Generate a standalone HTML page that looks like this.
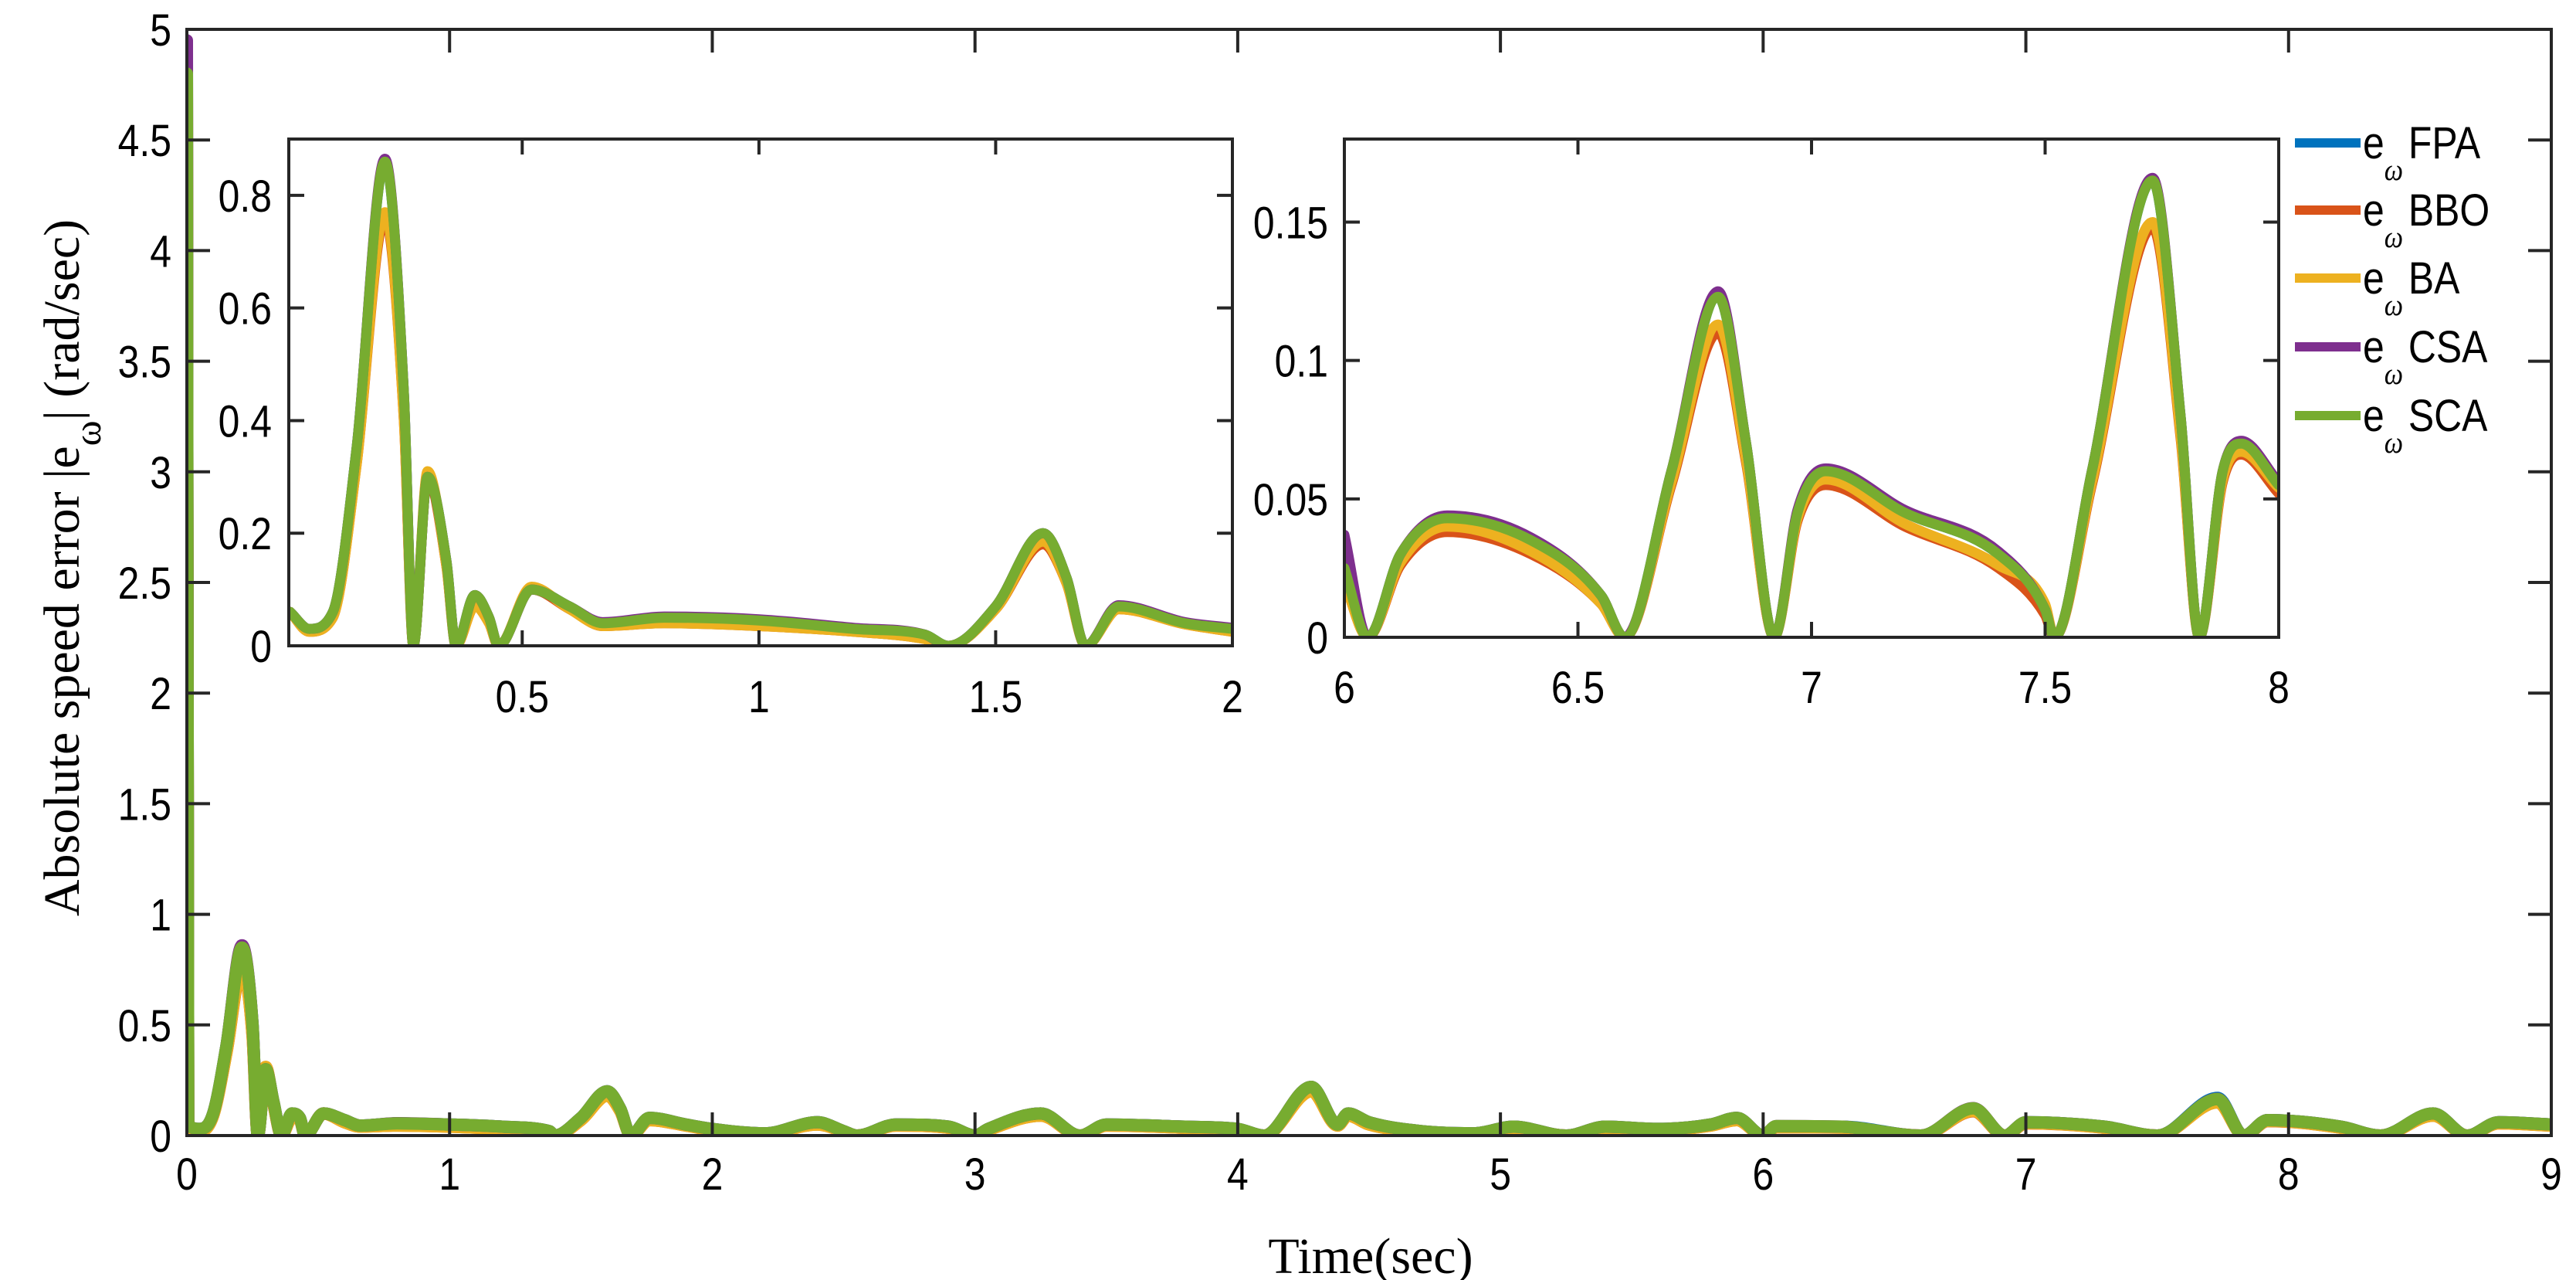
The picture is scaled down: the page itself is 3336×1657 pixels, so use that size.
<!DOCTYPE html>
<html><head><meta charset="utf-8"><style>
html,body{margin:0;padding:0;background:#fff;}
svg{display:block;}
text{font-family:"Liberation Sans",sans-serif;fill:#000;}
</style></head><body>
<svg id="chart" width="3336" height="1657" viewBox="0 0 3336 1657" xmlns="http://www.w3.org/2000/svg">
<rect width="3336" height="1657" fill="#fff"/>
<g id="main"></g>
<g id="inset1"></g>
<g id="inset2"></g>
<g id="legend"></g>
<text x="1775" y="1648" text-anchor="middle" style="font-family:'Liberation Serif',serif;font-size:66px">Time(sec)</text>
<text transform="translate(102,735) rotate(-90)" text-anchor="middle" style="font-family:'Liberation Serif',serif;font-size:66px">Absolute speed error |e<tspan baseline-shift="sub" font-size="50">ω</tspan>| (rad/sec)</text>
</svg>
<script>
const seriesNames=["FPA","BBO","BA","CSA","SCA"];
const seriesColors=["#0072BD","#D95319","#EDB120","#7E2F8E","#77AC30"];

// main panel data
const mainT=[0,0.005,0.05,0.1,0.15,0.21,0.25,0.27,0.3,0.33,0.36,0.4,0.43,0.45,0.52,0.6,0.66,0.8,1.0,1.2,1.38,1.4,1.5,1.6,1.65,1.69,1.76,1.9,2.0,2.2,2.4,2.5,2.55,2.7,2.9,3.0,3.05,3.25,3.4,3.5,3.8,4.0,4.1,4.28,4.38,4.42,4.5,4.7,4.9,5.05,5.25,5.4,5.6,5.8,5.9,6.0,6.05,6.3,6.6,6.8,6.92,7.0,7.3,7.5,7.73,7.83,7.92,8.2,8.35,8.55,8.68,8.8,9.0];
const mainFPA=[4.9,0.05,0.03,0.1,0.4,0.85,0.5,0,0.3,0.15,0,0.1,0.08,0,0.1,0.07,0.045,0.055,0.05,0.04,0.02,0,0.08,0.2,0.12,0,0.08,0.05,0.03,0.01,0.06,0.02,0,0.05,0.04,0,0.03,0.1,0,0.05,0.04,0.03,0,0.22,0.05,0.1,0.06,0.02,0.01,0.04,0,0.04,0.03,0.05,0.08,0,0.04,0.04,0,0.12,0,0.06,0.04,0,0.17,0,0.07,0.04,0,0.1,0,0.06,0.05];
const mainBBO=[4.8,0.04,0.02,0.09,0.37,0.76,0.45,0,0.31,0.14,0,0.08,0.07,0,0.1,0.06,0.04,0.045,0.04,0.03,0.015,0,0.07,0.18,0.11,0,0.07,0.045,0.025,0.008,0.05,0.018,0,0.045,0.035,0,0.025,0.09,0,0.045,0.035,0.025,0,0.2,0.045,0.09,0.05,0.018,0.008,0.035,0,0.035,0.025,0.045,0.07,0,0.037,0.036,0,0.11,0,0.055,0.035,0,0.15,0,0.065,0.035,0,0.09,0,0.055,0.045];
const mainBA=[4.8,0.04,0.02,0.09,0.37,0.77,0.45,0,0.31,0.14,0,0.08,0.07,0,0.1,0.06,0.04,0.045,0.04,0.03,0.015,0,0.07,0.18,0.11,0,0.07,0.045,0.025,0.008,0.05,0.018,0,0.045,0.035,0,0.025,0.09,0,0.045,0.035,0.025,0,0.2,0.045,0.09,0.05,0.018,0.008,0.035,0,0.035,0.025,0.045,0.07,0,0.038,0.036,0,0.112,0,0.056,0.035,0,0.15,0,0.066,0.035,0,0.09,0,0.055,0.045];
const mainCSA=[4.95,0.05,0.03,0.1,0.4,0.86,0.5,0,0.3,0.15,0,0.1,0.08,0,0.1,0.07,0.045,0.056,0.05,0.04,0.02,0,0.08,0.2,0.12,0,0.08,0.05,0.03,0.01,0.06,0.02,0,0.05,0.04,0,0.03,0.1,0,0.05,0.04,0.03,0,0.22,0.05,0.1,0.06,0.02,0.01,0.04,0,0.04,0.03,0.05,0.08,0,0.043,0.04,0,0.124,0,0.06,0.04,0,0.166,0,0.07,0.04,0,0.1,0,0.06,0.05];
const mainSCA=[4.8,0.05,0.03,0.1,0.4,0.85,0.5,0,0.3,0.15,0,0.1,0.08,0,0.1,0.07,0.045,0.055,0.05,0.04,0.02,0,0.08,0.2,0.12,0,0.08,0.05,0.03,0.01,0.06,0.02,0,0.05,0.04,0,0.03,0.1,0,0.05,0.04,0.03,0,0.22,0.05,0.1,0.06,0.02,0.01,0.04,0,0.04,0.03,0.05,0.08,0,0.043,0.04,0,0.123,0,0.06,0.04,0,0.165,0,0.07,0.04,0,0.1,0,0.06,0.05];
const mainXTicks=[0,1,2,3,4,5,6,7,8,9];
const mainYTicks=[0,0.5,1,1.5,2,2.5,3,3.5,4,4.5,5];
const mainYLabels=["0","0.5","1","1.5","2","2.5","3","3.5","4","4.5","5"];

// inset 1 data (0-2 s)
const in1T=[0.01,0.05,0.1,0.15,0.21,0.25,0.27,0.3,0.34,0.36,0.4,0.43,0.45,0.52,0.6,0.67,0.8,1.0,1.2,1.35,1.4,1.5,1.6,1.65,1.69,1.76,1.9,2.0];
const in1FPA=[0.06,0.03,0.06,0.35,0.86,0.45,0,0.3,0.15,0,0.09,0.05,0,0.1,0.07,0.04,0.05,0.045,0.03,0.02,0,0.07,0.2,0.12,0,0.07,0.04,0.03];
const in1BBO=[0.06,0.025,0.05,0.32,0.76,0.4,0,0.3,0.14,0,0.07,0.04,0,0.1,0.065,0.035,0.04,0.035,0.025,0.012,0,0.065,0.18,0.11,0,0.065,0.038,0.025];
const in1BA=[0.06,0.025,0.05,0.32,0.77,0.4,0,0.31,0.14,0,0.07,0.04,0,0.105,0.065,0.035,0.04,0.035,0.025,0.012,0,0.065,0.185,0.11,0,0.065,0.038,0.025];
const in1CSA=[0.06,0.03,0.06,0.35,0.865,0.45,0,0.3,0.15,0,0.09,0.05,0,0.1,0.07,0.042,0.052,0.047,0.032,0.02,0,0.07,0.2,0.12,0,0.072,0.042,0.032];
const in1SCA=[0.06,0.03,0.06,0.35,0.86,0.45,0,0.3,0.15,0,0.09,0.05,0,0.1,0.07,0.04,0.05,0.045,0.03,0.02,0,0.07,0.2,0.12,0,0.07,0.04,0.03];
const in1XTicks=[0.5,1,1.5,2];
const in1YTicks=[0,0.2,0.4,0.6,0.8];

// inset 2 data (6-8 s)
const in2T=[6.0,6.05,6.12,6.22,6.4,6.55,6.6,6.7,6.8,6.86,6.92,6.97,7.03,7.2,7.4,7.5,7.52,7.6,7.73,7.79,7.83,7.88,7.92,8.0];
const in2FPA=[0.025,0,0.03,0.043,0.035,0.015,0,0.06,0.123,0.07,0,0.045,0.06,0.045,0.03,0.01,0,0.06,0.165,0.08,0,0.06,0.07,0.055];
const in2BBO=[0.02,0,0.026,0.038,0.03,0.012,0,0.055,0.11,0.063,0,0.042,0.055,0.04,0.025,0.008,0,0.055,0.148,0.072,0,0.056,0.066,0.052];
const in2BA=[0.02,0,0.027,0.04,0.031,0.012,0,0.056,0.113,0.064,0,0.043,0.057,0.041,0.026,0.012,0,0.056,0.15,0.073,0,0.057,0.067,0.054];
const in2CSA=[0.037,0,0.03,0.044,0.036,0.015,0,0.06,0.125,0.07,0,0.046,0.061,0.046,0.031,0.01,0,0.06,0.166,0.08,0,0.06,0.071,0.056];
const in2SCA=[0.025,0,0.03,0.043,0.035,0.015,0,0.06,0.123,0.07,0,0.045,0.06,0.045,0.03,0.01,0,0.06,0.165,0.08,0,0.06,0.07,0.055];
const in2XTicks=[6,6.5,7,7.5,8];
const in2YTicks=[0,0.05,0.1,0.15];

const NS="http://www.w3.org/2000/svg";
function mk(tag,attrs,parent){const e=document.createElementNS(NS,tag);for(const k in attrs)e.setAttribute(k,attrs[k]);parent.appendChild(e);return e;}

function smoothPath(px,py){
  const n=px.length;const d=[],m=new Array(n).fill(0);
  for(let i=0;i<n-1;i++){const dx=px[i+1]-px[i];d.push(dx===0?0:(py[i+1]-py[i])/dx);}
  for(let i=1;i<n-1;i++){m[i]=(d[i-1]*d[i]<=0)?0:(d[i-1]+d[i])/2;
    const a=m[i]/d[i-1],b=m[i]/d[i],s=a*a+b*b;if(s>9){const t=3/Math.sqrt(s);m[i]=t*a*d[i-1];}}
  m[0]=d[0];m[n-1]=d[n-2];
  let p='M'+px[0].toFixed(1)+','+py[0].toFixed(1);
  for(let i=0;i<n-1;i++){const h=(px[i+1]-px[i])/3;
    p+='C'+(px[i]+h).toFixed(1)+','+(py[i]+m[i]*h).toFixed(1)+' '+(px[i+1]-h).toFixed(1)+','+(py[i+1]-m[i+1]*h).toFixed(1)+' '+px[i+1].toFixed(1)+','+py[i+1].toFixed(1);}
  return p;
}
function lbl(g,x,y,anchor,fs,txt,name){
  const t=mk('text',{transform:'translate('+x+','+y+') scale(0.86,1)','text-anchor':anchor,'font-size':fs},g);
  t.textContent=txt;
  
  
}

function panel(g,box,xr,yr,T,series,xt,xl,yt,yl,fs,tickLen,lw,xLabY,yLabX,clipId){
  const sx=v=>box.x+(v-xr[0])/(xr[1]-xr[0])*box.w;
  const sy=v=>box.y+box.h-(v-yr[0])/(yr[1]-yr[0])*box.h;
  const bg=mk('rect',{x:box.x,y:box.y,width:box.w,height:box.h,fill:'#fff'},g);
  
  
  const defs=mk('defs',{},g);
  const cp=mk('clipPath',{id:clipId},defs);
  mk('rect',{x:box.x,y:box.y-20,width:box.w,height:box.h+20},cp);
  const lines=mk('g',{'clip-path':'url(#'+clipId+')'},g);
  series.forEach((vals,i)=>{
    const d=smoothPath(T.map(sx),vals.map(sy));
    const p=mk('path',{d:d,fill:'none',stroke:seriesColors[i],'stroke-width':lw,'stroke-linejoin':'round','stroke-linecap':'round'},lines);
    
    
  });
  const fr=mk('rect',{x:box.x,y:box.y,width:box.w,height:box.h,fill:'none',stroke:'#262626','stroke-width':4},g);
  
  
  xt.forEach((v,i)=>{
    const x=sx(v);
    mk('line',{x1:x,y1:box.y+box.h,x2:x,y2:box.y+box.h-tickLen,stroke:'#262626','stroke-width':4},g);
    mk('line',{x1:x,y1:box.y,x2:x,y2:box.y+tickLen,stroke:'#262626','stroke-width':4},g);
    lbl(g,x,xLabY,'middle',fs,xl[i],'x-tick-label');
  });
  yt.forEach((v,i)=>{
    const y=sy(v);
    mk('line',{x1:box.x,y1:y,x2:box.x+tickLen,y2:y,stroke:'#262626','stroke-width':4},g);
    mk('line',{x1:box.x+box.w,y1:y,x2:box.x+box.w-tickLen,y2:y,stroke:'#262626','stroke-width':4},g);
    lbl(g,yLabX,y+21,'end',fs,yl[i],'y-tick-label');
  });
}

panel(document.getElementById('main'),{x:242,y:38,w:3062,h:1432},[0,9],[0,5],mainT,
  [mainFPA,mainBBO,mainBA,mainCSA,mainSCA],mainXTicks,mainXTicks.map(String),mainYTicks,mainYLabels,58,30,16,1540,222,'c0');
panel(document.getElementById('inset1'),{x:374,y:180,w:1222,h:656},[0.007,2],[0,0.9],in1T,
  [in1FPA,in1BBO,in1BA,in1CSA,in1SCA],in1XTicks,["0.5","1","1.5","2"],in1YTicks,["0","0.2","0.4","0.6","0.8"],58,20,13,922,352,'c1');
panel(document.getElementById('inset2'),{x:1741,y:180,w:1210,h:645},[6,8],[0,0.18],in2T,
  [in2FPA,in2BBO,in2BA,in2CSA,in2SCA],in2XTicks,["6","6.5","7","7.5","8"],in2YTicks,["0","0.05","0.1","0.15"],58,20,13,910,1720,'c2');

const lg=document.getElementById('legend');
const legY=[185,272,360,449,538];
seriesNames.forEach((n,i)=>{
  const e=mk('g',{},lg);
  
  
  mk('line',{x1:2972,y1:legY[i],x2:3057,y2:legY[i],stroke:seriesColors[i],'stroke-width':12},e);
  const t=mk('text',{transform:'translate(3060,'+(legY[i]+20)+') scale(0.86,1)','font-size':58},e);
  t.innerHTML='e<tspan dy="28" font-size="40" font-family="Liberation Serif" font-style="italic">ω</tspan><tspan dx="8" dy="-28">'+n+'</tspan>';
});
</script>
</body></html>
